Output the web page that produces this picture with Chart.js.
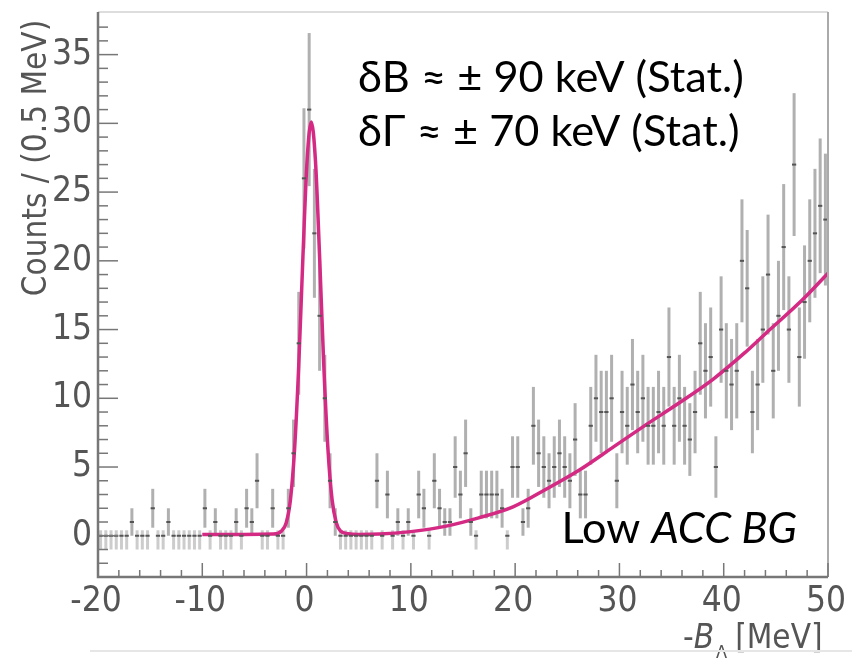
<!DOCTYPE html>
<html lang="en">
<head>
  <meta charset="UTF-8" />
  <title>-B_Λ spectrum</title>
  <script src="https://cdn.jsdelivr.net/npm/chart.js@4.4.1/dist/chart.umd.min.js"></script>
  <style>
    body { margin: 0; background: #fff; }
    #wrap { width: 852px; height: 659px; position: relative; }
  </style>
</head>
<body>
  <div id="wrap"><canvas id="chart" width="852" height="659"></canvas></div>

  <script>
    // histogram: 0.5 MeV bins from -20 to 50 MeV
    const binLow = -20;
    const binWidth = 0.5;
    const counts = [
      0, 0, 0, 0, 0, 0, 1, 0, 0, 0, 2, 0, 0, 1, 0, 0, 0, 0, 0, 0,
      2, 0, 1, 0, 0, 0, 1, 0, 2, 1, 4, 0, 0, 2, 0, 0, 2, 6, 14, 26,
      31, 22, 16, 10, 4, 1, 0, 0, 0, 0, 0, 0, 0, 4, 0, 3, 0, 1, 0, 1,
      0, 3, 2, 0, 4, 2, 1, 1, 5, 3, 6, 1, 0, 3, 3, 3, 3, 2, 0, 5,
      5, 1, 2, 8, 6, 5, 4, 5, 6, 5, 4, 7, 3, 3, 8, 10, 9, 9, 10, 4,
      9, 8, 11, 9, 10, 8, 8, 9, 8, 13, 8, 10, 8, 7, 9, 14, 12, 13, 5, 15,
      12, 11, 12, 20, 18, 9, 11, 15, 19, 12, 16, 21, 15, 27, 13, 17, 20, 22, 24, 23
    ];

    // fitted curve
    const fitX = [-10, -6, -3.2, -2.4, -1.95, -1.55, -1.15, -0.75, -0.35, 0.05, 0.45,
                  0.85, 1.25, 1.65, 2.05, 2.45, 2.85, 3.25, 4, 5, 7, 10, 13.4, 16.5,
                  19.8, 23, 26.2, 29.5, 32.6, 36, 39, 42, 44, 47.6, 50];
    const fitY = [0.1, 0.1, 0.12, 0.35, 0.95, 2.6, 6.3, 12.4, 20.3, 27.3, 30.1,
                  27.3, 20.3, 12.4, 6.3, 2.6, 0.95, 0.35, 0.15, 0.1, 0.12, 0.3, 0.7, 1.3,
                  2.1, 3.4, 4.8, 6.5, 8.1, 9.8, 11.4, 13.3, 14.7, 17.2, 19.1];

    const xTicks = [-20, -10, 0, 10, 20, 30, 40, 50];
    const yTicks = [0, 5, 10, 15, 20, 25, 30, 35];
    const notes = ["δB ≈ ± 90 keV (Stat.)", "δΓ ≈ ± 70 keV (Stat.)"];

    const points = counts.map((c, i) => ({ x: binLow + binWidth * (i + 0.5), y: c }));
    const fitPoints = fitX.map((x, i) => ({ x, y: fitY[i] }));

    const axisFont = '"DejaVu Sans Condensed", "Liberation Sans Narrow", sans-serif';
    const textFont = 'Lato, "Open Sans", sans-serif';

    const rootAxes = {
      id: "rootAxes",
      beforeDatasetsDraw(chart) {
        const { ctx, scales: { x, y } } = chart;
        ctx.save();
        // error bars (empty bins: short bar, mostly below zero)
        ctx.lineWidth = 3;
        points.forEach(p => {
          const px = x.getPixelForValue(p.x);
          const lo = p.y > 0 ? p.y - Math.sqrt(p.y) : -1;
          const hi = p.y > 0 ? p.y + Math.sqrt(p.y) : 0.4;
          ctx.strokeStyle = p.y > 0 ? "rgba(150,150,150,0.75)" : "rgba(170,170,170,0.6)";
          ctx.beginPath();
          ctx.moveTo(px, y.getPixelForValue(lo));
          ctx.lineTo(px, y.getPixelForValue(hi));
          ctx.stroke();
        });
        ctx.restore();
      },
      afterDatasetsDraw(chart) {
        const { ctx, chartArea: a, scales: { x, y } } = chart;
        ctx.save();
        // bin markers
        ctx.strokeStyle = "#555";
        ctx.lineWidth = 2;
        const half = (x.getPixelForValue(binWidth) - x.getPixelForValue(0)) / 2;
        points.forEach(p => {
          const px = x.getPixelForValue(p.x), py = y.getPixelForValue(p.y);
          ctx.beginPath();
          ctx.moveTo(px - half + 0.5, py);
          ctx.lineTo(px + half - 0.5, py);
          ctx.stroke();
        });

        // frame
        ctx.strokeStyle = "#ddd";
        ctx.lineWidth = 2;
        ctx.beginPath();
        ctx.moveTo(a.left, a.top); ctx.lineTo(a.right, a.top);
        ctx.stroke();
        ctx.strokeStyle = "#aaa";
        ctx.beginPath();
        ctx.moveTo(a.right, a.top); ctx.lineTo(a.right, a.bottom);
        ctx.stroke();
        ctx.strokeStyle = "#777";
        ctx.lineWidth = 2.5;
        ctx.beginPath();
        ctx.moveTo(a.left, a.top); ctx.lineTo(a.left, a.bottom); ctx.lineTo(a.right, a.bottom);
        ctx.stroke();

        // inward ticks
        ctx.lineWidth = 1.5;
        for (let v = -20; v <= 50; v += 2) {
          const px = x.getPixelForValue(v);
          const len = v % 10 === 0 ? 14 : 7;
          ctx.beginPath();
          ctx.moveTo(px, a.bottom); ctx.lineTo(px, a.bottom - len);
          ctx.stroke();
        }
        for (let v = -3; v <= 37; v += 1) {
          const py = y.getPixelForValue(v);
          const len = v % 5 === 0 ? 20 : 10;
          ctx.beginPath();
          ctx.moveTo(a.left, py); ctx.lineTo(a.left + len, py);
          ctx.stroke();
        }

        // tick labels
        ctx.fillStyle = "#555";
        ctx.font = `35px ${axisFont}`;
        ctx.textAlign = "right";
        ctx.textBaseline = "middle";
        yTicks.forEach(v => ctx.fillText(String(v), a.left - 6, y.getPixelForValue(v)));
        ctx.textAlign = "center";
        xTicks.forEach(v => ctx.fillText(String(v), x.getPixelForValue(v) - 2, a.bottom + 25));

        // axis titles
        ctx.textBaseline = "alphabetic";
        ctx.font = `33px ${axisFont}`;
        ctx.save();
        ctx.translate(46, 158);
        ctx.rotate(-Math.PI / 2);
        ctx.textAlign = "center";
        ctx.fillText("Counts / (0.5 MeV)", 0, 0);
        ctx.restore();

        ctx.textAlign = "left";
        let tx = 683;
        ctx.font = `33px ${axisFont}`;
        ctx.fillText("-", tx, 648); tx += ctx.measureText("-").width;
        ctx.font = `italic 33px ${axisFont}`;
        ctx.fillText("B", tx, 648); tx += ctx.measureText("B").width + 2;
        ctx.font = `18px ${axisFont}`;
        ctx.fillText("Λ", tx, 658); tx += ctx.measureText("Λ").width + 8;
        ctx.font = `33px ${axisFont}`;
        ctx.fillText("[MeV]", tx, 648);

        // annotations
        ctx.fillStyle = "#000";
        ctx.font = `44px ${textFont}`;
        const w0 = ctx.measureText(notes[0]).width;
        const size = Math.min(46, 44 * 386 / w0);
        ctx.font = `${size}px ${textFont}`;
        ctx.fillText(notes[0], 358, 92);
        ctx.fillText(notes[1], 358, 146);

        ctx.font = `${size}px ${textFont}`;
        const wLow = ctx.measureText("Low ").width;
        ctx.font = `italic ${size}px ${textFont}`;
        const wAcc = ctx.measureText("ACC BG").width;
        const lx = 797 - wLow - wAcc;
        ctx.font = `${size}px ${textFont}`;
        ctx.fillText("Low ", lx, 543);
        ctx.font = `italic ${size}px ${textFont}`;
        ctx.fillText("ACC BG", lx + wLow, 543);

        // faint strip line at the bottom of the picture
        ctx.strokeStyle = "#e6e6e6";
        ctx.lineWidth = 2;
        ctx.beginPath();
        ctx.moveTo(90, 651); ctx.lineTo(852, 651);
        ctx.stroke();
        ctx.restore();
      }
    };

    new Chart(document.getElementById("chart"), {
      type: "scatter",
      data: {
        datasets: [
          {
            label: "Counts",
            data: points,
            pointRadius: 0,
            showLine: false
          },
          {
            label: "Fit",
            data: fitPoints,
            showLine: true,
            borderColor: "#d42a84",
            borderWidth: 3.5,
            pointRadius: 0,
            cubicInterpolationMode: "monotone"
          }
        ]
      },
      options: {
        responsive: false,
        animation: false,
        devicePixelRatio: 1,
        layout: { padding: { left: 98, right: 24, top: 12, bottom: 82 } },
        plugins: { legend: { display: false }, tooltip: { enabled: false } },
        scales: {
          x: { type: "linear", min: -20, max: 50, display: false },
          y: { type: "linear", min: -3, max: 38.1, display: false }
        }
      },
      plugins: [rootAxes]
    });
  </script>
</body>
</html>
